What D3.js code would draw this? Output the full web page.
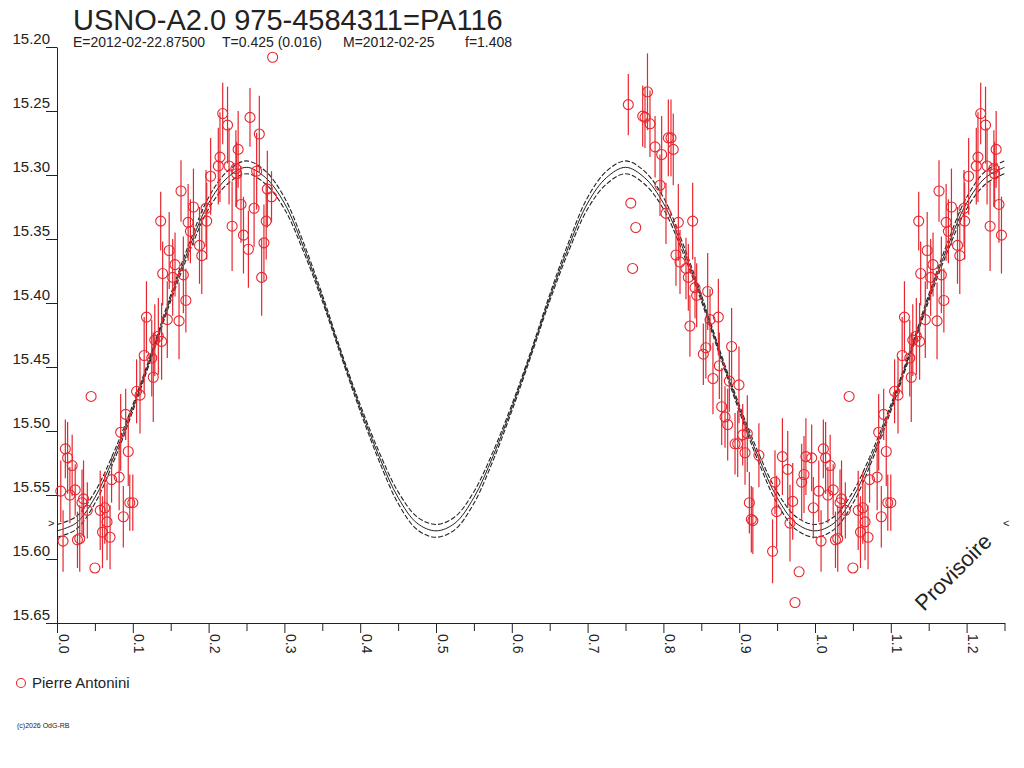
<!DOCTYPE html>
<html>
<head>
<meta charset="utf-8">
<script src="https://cdn.jsdelivr.net/npm/d3@7"></script>
<style>
  html, body { margin: 0; padding: 0; background: #fff; }
  svg { display: block; font-family: "Liberation Sans", Arial, sans-serif; }
</style>
</head>
<body>
<svg id="chart" width="1024" height="768"></svg>
<script>
// ---------- DATA ----------
const titleText = "USNO-A2.0 975-4584311=PA116";
const subtitleParts = ["E=2012-02-22.87500", "T=0.425 (0.016)", "M=2012-02-25", "f=1.408"];
const observer = "Pierre Antonini";
const copyrightText = "(c)2026 OdG-RB";
const watermark = "Provisoire";

const yTickValues = [15.20, 15.25, 15.30, 15.35, 15.40, 15.45, 15.50, 15.55, 15.60, 15.65];
const yTickLabels = ["15.20", "15.25", "15.30", "15.35", "15.40", "15.45", "15.50", "15.55", "15.60", "15.65"];
const xTickValues = [0.0, 0.1, 0.2, 0.3, 0.4, 0.5, 0.6, 0.7, 0.8, 0.9, 1.0, 1.1, 1.2];
const xTickLabels = ["0.0", "0.1", "0.2", "0.3", "0.4", "0.5", "0.6", "0.7", "0.8", "0.9", "1.0", "1.1", "1.2"];
const xMinorValues = [0.05, 0.15, 0.25, 0.35, 0.45, 0.55, 0.65, 0.75, 0.85, 0.95, 1.05, 1.15, 1.25];
const meanMarkerMag = 15.572;

// observations: phase, magnitude, error
const obsPhase = [
  0.005, 0.008, 0.011, 0.014, 0.017, 0.020, 0.024, 0.027, 0.030, 0.033,
  0.035, 0.040, 0.045, 0.050, 0.057, 0.060, 0.063, 0.066, 0.070, 0.072,
  0.082, 0.084, 0.0875, 0.0906, 0.094, 0.096, 0.100, 0.105, 0.1095, 0.115,
  0.118, 0.125, 0.127, 0.129, 0.1337, 0.1368, 0.138, 0.1394, 0.1455, 0.148,
  0.1526, 0.1557, 0.161, 0.1636, 0.1667, 0.170, 0.173, 0.176, 0.180, 0.188,
  0.191, 0.1966, 0.1975, 0.2027, 0.2128, 0.215, 0.2186, 0.225, 0.227, 0.231,
  0.236, 0.237, 0.239, 0.2427, 0.246, 0.2525, 0.2546, 0.260, 0.2634, 0.2669,
  0.270, 0.273, 0.276, 0.2775, 0.283, 0.2845,
  0.7537, 0.757, 0.7594, 0.7635, 0.7727, 0.7757, 0.779, 0.7823, 0.789, 0.7955,
  0.7977, 0.8034, 0.8065, 0.810, 0.813, 0.8166, 0.8197, 0.8219, 0.8298, 0.8329,
  0.835, 0.8386, 0.8417, 0.8439, 0.8527, 0.856, 0.8584, 0.8615, 0.8654, 0.8725,
  0.8738, 0.8769, 0.8813, 0.8848, 0.887, 0.890, 0.8945, 0.898, 0.8997, 0.9046,
  0.9077, 0.9107, 0.9134, 0.916, 0.918, 0.926, 0.944, 0.9472, 0.9494, 0.957,
  0.964, 0.967, 0.9706, 0.9736, 0.979, 0.9824, 0.9855, 0.988, 0.9956, 0.9978
];
const obsMag = [
  15.547, 15.586, 15.514, 15.521, 15.550, 15.527, 15.546, 15.585, 15.584, 15.556,
  15.553, 15.562, 15.473, 15.607, 15.562, 15.579, 15.560, 15.571, 15.583, 15.538,
  15.536, 15.501, 15.567, 15.487, 15.516, 15.556, 15.556, 15.469, 15.472, 15.441,
  15.411, 15.443, 15.458, 15.429, 15.426, 15.336, 15.430, 15.377, 15.413, 15.359,
  15.380, 15.370, 15.414, 15.3125, 15.378, 15.398, 15.337, 15.344, 15.325, 15.355,
  15.363, 15.326, 15.336, 15.301, 15.293, 15.286, 15.252, 15.261, 15.293, 15.340,
  15.295, 15.299, 15.280, 15.323, 15.347, 15.358, 15.255, 15.326, 15.297, 15.268,
  15.380, 15.353, 15.336, 15.311, 15.317, 15.208,
  15.245, 15.322, 15.373, 15.341, 15.254, 15.255, 15.235, 15.260, 15.278, 15.308,
  15.284, 15.330, 15.271, 15.271, 15.280, 15.3625, 15.337, 15.368, 15.373, 15.380,
  15.418, 15.336, 15.388, 15.394, 15.440, 15.435, 15.391, 15.413, 15.459, 15.411,
  15.449, 15.481, 15.489, 15.495, 15.461, 15.434, 15.510, 15.510, 15.464, 15.503,
  15.517, 15.502, 15.556, 15.569, 15.570, 15.519, 15.594, 15.540, 15.563, 15.520,
  15.530, 15.572, 15.555, 15.634, 15.610, 15.540, 15.534, 15.520, 15.521, 15.560
];
const obsErr = [
  0.024, 0.024, 0.023, 0.028, 0.022, 0.024, 0.020, 0.022, 0.026, 0.026,
  0.030, 0.022, 0.000, 0.000, 0.031, 0.028, 0.028, 0.030, 0.025, 0.018,
  0.026, 0.030, 0.024, 0.020, 0.027, 0.022, 0.022, 0.025, 0.030, 0.030,
  0.028, 0.030, 0.035, 0.028, 0.030, 0.023, 0.030, 0.025, 0.030, 0.030,
  0.030, 0.025, 0.030, 0.024, 0.030, 0.025, 0.030, 0.025, 0.030, 0.030,
  0.030, 0.030, 0.030, 0.030, 0.030, 0.035, 0.024, 0.030, 0.030, 0.035,
  0.030, 0.025, 0.030, 0.030, 0.030, 0.030, 0.023, 0.030, 0.030, 0.030,
  0.030, 0.030, 0.030, 0.030, 0.020, 0.000,
  0.024, 0.000, 0.000, 0.000, 0.024, 0.024, 0.030, 0.026, 0.024, 0.024,
  0.030, 0.024, 0.030, 0.030, 0.028, 0.024, 0.030, 0.025, 0.024, 0.026,
  0.024, 0.030, 0.024, 0.025, 0.024, 0.024, 0.030, 0.024, 0.028, 0.030,
  0.026, 0.030, 0.024, 0.028, 0.024, 0.030, 0.024, 0.026, 0.030, 0.024,
  0.025, 0.030, 0.024, 0.026, 0.026, 0.025, 0.025, 0.025, 0.028, 0.030,
  0.030, 0.030, 0.030, 0.000, 0.000, 0.030, 0.030, 0.030, 0.026, 0.024
];

// fitted light curve and its uncertainty envelope
const fitPhase = [
  0.000, 0.025, 0.050, 0.075, 0.100, 0.125, 0.150, 0.175, 0.200, 0.225,
  0.250, 0.275, 0.300, 0.325, 0.350, 0.375, 0.400, 0.425, 0.450, 0.475,
  0.500, 0.525, 0.550, 0.575, 0.600, 0.625, 0.650, 0.675, 0.700, 0.725,
  0.750, 0.775, 0.800, 0.825, 0.850, 0.875, 0.900, 0.925, 0.950, 0.975,
  1.000, 1.025, 1.050, 1.075, 1.100, 1.125, 1.150, 1.175, 1.200, 1.225, 1.250
];
const fitMag = [
  15.578, 15.572, 15.552, 15.520, 15.482, 15.440, 15.396, 15.356, 15.322, 15.302,
  15.294, 15.302, 15.322, 15.356, 15.396, 15.440, 15.482, 15.520, 15.552, 15.572,
  15.578, 15.572, 15.552, 15.520, 15.482, 15.440, 15.396, 15.356, 15.322, 15.302,
  15.294, 15.302, 15.322, 15.356, 15.396, 15.440, 15.482, 15.520, 15.552, 15.572,
  15.578, 15.572, 15.552, 15.520, 15.482, 15.440, 15.396, 15.356, 15.322, 15.302, 15.294
];
const fitSigma = [
  0.0050, 0.0050, 0.0045, 0.0035, 0.0025, 0.0020, 0.0025, 0.0035, 0.0045, 0.0050,
  0.0050, 0.0050, 0.0045, 0.0035, 0.0025, 0.0020, 0.0025, 0.0035, 0.0045, 0.0050,
  0.0050, 0.0050, 0.0045, 0.0035, 0.0025, 0.0020, 0.0025, 0.0035, 0.0045, 0.0050,
  0.0050, 0.0050, 0.0045, 0.0035, 0.0025, 0.0020, 0.0025, 0.0035, 0.0045, 0.0050,
  0.0050, 0.0050, 0.0045, 0.0035, 0.0025, 0.0020, 0.0025, 0.0035, 0.0045, 0.0050, 0.0050
];

// ---------- DRAW ----------
const svg = d3.select("#chart");
const ink = "#222";
const red = "#e8262e";

const x = d3.scaleLinear().domain([0, 1.25]).range([57, 1004.5]);
const y = d3.scaleLinear().domain([15.20, 15.65]).range([47, 623]);

// title + subtitle
svg.append("text").attr("x", 73).attr("y", 30)
  .attr("font-size", 29).attr("fill", ink).text(titleText);
const subX = [73, 222, 343, 465];
svg.append("g").selectAll("text").data(subtitleParts).join("text")
  .attr("x", (d, i) => subX[i]).attr("y", 47)
  .attr("font-size", 14).attr("fill", ink).text(d => d);

// y axis
const yAxis = d3.axisLeft(y).tickValues(yTickValues)
  .tickFormat((d, i) => yTickLabels[i]).tickSize(11).tickSizeOuter(0);
const gy = svg.append("g").attr("transform", "translate(57,0)").call(yAxis);
gy.selectAll("path, line").attr("stroke", ink);
gy.selectAll("text").attr("x", -7).attr("dy", "-0.22em")
  .attr("font-size", 15).attr("fill", ink).attr("font-family", "Liberation Sans, Arial, sans-serif");

// x axis
const xAxis = d3.axisBottom(x).tickValues(xTickValues)
  .tickFormat((d, i) => xTickLabels[i]).tickSize(10).tickSizeOuter(0);
const gx = svg.append("g").attr("transform", "translate(0,623)").call(xAxis);
gx.selectAll("path, line").attr("stroke", ink);
gx.selectAll("text")
  .attr("transform", "rotate(90)")
  .attr("x", 11).attr("y", -1).attr("dy", null)
  .style("text-anchor", "start")
  .attr("font-size", 14).attr("fill", ink).attr("font-family", "Liberation Sans, Arial, sans-serif");
const xMinor = d3.axisBottom(x).tickValues(xMinorValues).tickFormat("").tickSize(8).tickSizeOuter(0);
const gxm = svg.append("g").attr("transform", "translate(0,623)").call(xMinor);
gxm.select("path").remove();
gxm.selectAll("line").attr("stroke", ink);

// fitted curve with envelope
const lineGen = d3.line().x(d => x(d.p)).y(d => y(d.m)).curve(d3.curveCatmullRom);
const fitC = fitPhase.map((p, i) => ({ p, m: fitMag[i] }));
const fitU = fitPhase.map((p, i) => ({ p, m: fitMag[i] - fitSigma[i] }));
const fitL = fitPhase.map((p, i) => ({ p, m: fitMag[i] + fitSigma[i] }));
const gFit = svg.append("g").attr("fill", "none").attr("stroke", ink);
gFit.append("path").attr("d", lineGen(fitU)).attr("stroke-width", 1.1).attr("stroke-dasharray", "5,2");
gFit.append("path").attr("d", lineGen(fitL)).attr("stroke-width", 1.1).attr("stroke-dasharray", "5,2");
gFit.append("path").attr("d", lineGen(fitC)).attr("stroke-width", 1);

// observations (plotted at phase and phase+1 within the range)
const obs = [];
obsPhase.forEach((p, i) => {
  [p, p + 1].forEach(pp => {
    if (pp >= 0 && pp <= 1.25) obs.push({ p: pp, m: obsMag[i], e: obsErr[i] });
  });
});
const gObs = svg.append("g");
gObs.selectAll("line").data(obs.filter(d => d.e > 0)).join("line")
  .attr("x1", d => x(d.p)).attr("x2", d => x(d.p))
  .attr("y1", d => y(d.m - d.e)).attr("y2", d => y(d.m + d.e))
  .attr("stroke", red).attr("stroke-width", 1.2);
gObs.selectAll("circle").data(obs).join("circle")
  .attr("cx", d => x(d.p)).attr("cy", d => y(d.m)).attr("r", 5)
  .attr("fill", "none").attr("stroke", red).attr("stroke-width", 1.1);

// mean markers
svg.append("text").attr("x", 48).attr("y", y(meanMarkerMag) + 4)
  .attr("font-size", 11).attr("fill", ink).text(">");
svg.append("text").attr("x", 1003).attr("y", y(meanMarkerMag) + 4)
  .attr("font-size", 11).attr("fill", ink).text("<");

// watermark
svg.append("text").attr("transform", "translate(924,612) rotate(-45)")
  .attr("font-size", 22).attr("fill", ink).text(watermark);

// legend
svg.append("circle").attr("cx", 21).attr("cy", 683).attr("r", 4.5)
  .attr("fill", "none").attr("stroke", red).attr("stroke-width", 1.1);
svg.append("text").attr("x", 32).attr("y", 688).attr("font-size", 15).attr("fill", ink).text(observer);

// copyright
svg.append("text").attr("x", 17).attr("y", 728).attr("font-size", 7).attr("fill", ink).text(copyrightText);
</script>
</body>
</html>
